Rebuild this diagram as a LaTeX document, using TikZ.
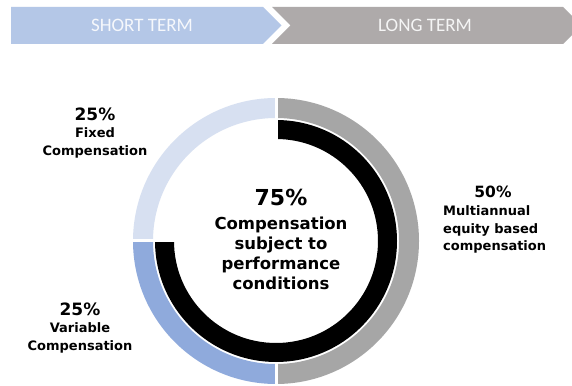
\documentclass[tikz,border=0pt]{standalone}
\usepackage{fontspec}
\setmainfont{DejaVu Sans}
\newfontfamily\bannerfont{Carlito}
\definecolor{shortblue}{HTML}{B4C7E7}
\definecolor{longgray}{HTML}{AEAAAA}
\definecolor{lightseg}{HTML}{D7E0F1}
\definecolor{midseg}{HTML}{8FAADC}
\definecolor{grayseg}{HTML}{A6A6A6}
\tikzset{
  bannertext/.style={font=\bannerfont\fontsize{19}{22}\selectfont, text=white!88!shortblue, inner sep=0pt},
  lbl/.style={font=\bfseries\fontsize{13}{15}\selectfont, inner sep=0pt, anchor=mid},
  lblpct/.style={font=\bfseries\fontsize{17}{19}\selectfont, inner sep=0pt, anchor=mid},
  ctr/.style={font=\bfseries\fontsize{16.5}{19}\selectfont, inner sep=0pt, anchor=mid},
  ctrpct/.style={font=\bfseries\fontsize{22}{24}\selectfont, inner sep=0pt, anchor=mid},
  seg/.style={line width=20pt},
  inner/.style={line width=19pt, black},
  gap/.style={draw=white, line width=3pt}
}
\begin{document}
\begin{tikzpicture}[x=1pt,y=1pt]
\useasboundingbox (0,0) rectangle (572,385);
\clip (0,0) rectangle (572,385);
\fill[white] (0,0) rectangle (572,385);
% banner
\fill[shortblue] (11,378) -- (263,378) -- (281.5,359.5) -- (263,341) -- (11,341) -- cycle;
\fill[longgray] (272,378) -- (563,378) -- (581.5,359.5) -- (563,341) -- (272,341) -- (290.5,359.5) -- cycle;
\node[bannertext] (st) at (142,359.5) {SHORT TERM};
\node[bannertext, text=white!88!longgray] (lt) at (425,359.5) {LONG TERM};
% ring
\coordinate (c) at (276,144);
\draw[seg, lightseg] (c) ++(90:133) arc[start angle=90, end angle=180, radius=133];
\draw[seg, midseg] (c) ++(180:133) arc[start angle=180, end angle=270, radius=133];
\draw[seg, grayseg] (c) ++(90:133) arc[start angle=90, end angle=-90, radius=133];
\draw[inner] (c) ++(90:111.5) arc[start angle=90, end angle=-180, radius=111.5];
\draw[gap] (c) ++(90:100) -- ++(90:45);
\draw[gap] (c) ++(180:100) -- ++(180:45);
\draw[gap] (c) ++(270:122) -- ++(270:23);
% center text
\node[ctrpct] (p75) at (281,182) {75\%};
\node[ctr] (c1) at (281,158) {Compensation};
\node[ctr] (c2) at (281,138) {subject to};
\node[ctr] (c3) at (281,118) {performance};
\node[ctr] (c4) at (281,98) {conditions};
% fixed
\node[lblpct] (p25a) at (95,267) {25\%};
\node[lbl] (f1) at (95,250) {Fixed};
\node[lbl] (f2) at (95,232) {Compensation};
% variable
\node[lblpct] (p25b) at (80,72) {25\%};
\node[lbl] (v1) at (80,55) {Variable};
\node[lbl] (v2) at (80,37) {Compensation};
% multiannual
\node[lblpct, font=\bfseries\fontsize{15.5}{18}\selectfont] (p50) at (493,190) {50\%};
\node[lbl, anchor=mid west] (m1) at (443,172) {Multiannual};
\node[lbl, anchor=mid west] (m2) at (443,154) {equity based};
\node[lbl, anchor=mid west] (m3) at (443,137) {compensation};
\end{tikzpicture}
\end{document}
